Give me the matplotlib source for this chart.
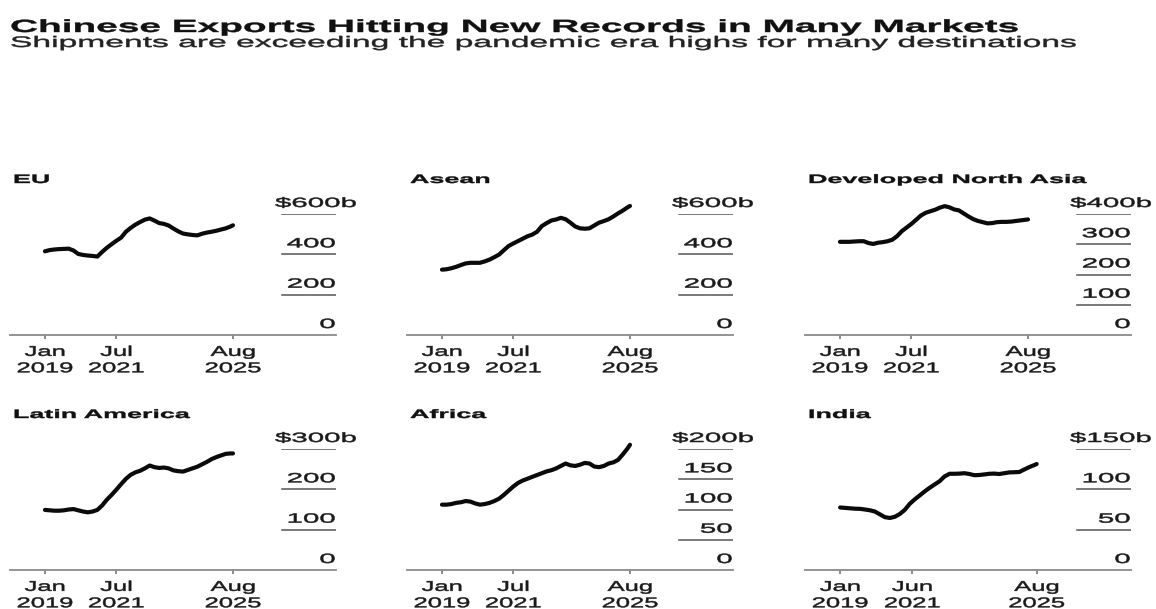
import numpy as np
import pandas as pd
import matplotlib
matplotlib.use("Agg")
import matplotlib.pyplot as plt
from matplotlib.patheffects import AbstractPathEffect
from matplotlib.transforms import Affine2D

# ---------------- data ----------------
title = "Chinese Exports Hitting New Records in Many Markets"
subtitle = "Shipments are exceeding the pandemic era highs for many destinations"

regions = ["EU", "Asean", "Developed North Asia", "Latin America", "Africa", "India"]

# observation dates: every two months from Jan 2019, plus the latest month (Aug 2025)
dates = list(pd.date_range("2019-01-01", "2025-07-01", freq="2MS")) + [pd.Timestamp("2025-08-01")]

eu = [415, 421, 424, 426, 427, 428, 419, 402, 397, 394, 392, 389, 412, 432, 450, 467, 483,
      512, 531, 547, 560, 572, 578, 567, 555, 551, 543, 528, 514, 503, 499, 496, 494, 502,
      508, 512, 517, 523, 529, 538, 544]
asean = [324, 326, 331, 338, 347, 355, 358, 358, 358, 365, 374, 386, 399, 420, 441, 454, 466,
         478, 490, 498, 512, 540, 555, 568, 573, 581, 574, 557, 538, 529, 527, 529, 543, 557,
         565, 574, 588, 603, 617, 633, 640]
north_asia = [308, 308, 308, 309, 310, 310, 304, 301, 305, 307, 310, 315, 327, 343, 355, 367,
              381, 395, 404, 409, 414, 421, 426, 422, 415, 412, 402, 392, 383, 377, 373, 369,
              370, 373, 374, 374, 375, 377, 379, 381, 382]
latam = [149, 148, 147, 147, 148, 150, 151, 148, 145, 143, 145, 149, 160, 174, 186, 199, 213,
         226, 236, 242, 246, 252, 259, 255, 253, 254, 252, 247, 245, 244, 248, 252, 256, 262,
         268, 275, 280, 284, 288, 289, 289]
africa = [108, 108, 109, 111, 112, 114, 113, 110, 108, 109, 111, 114, 118, 124, 131, 138, 144,
          148, 151, 154, 157, 160, 163, 165, 168, 172, 176, 173, 172, 174, 177, 176, 171, 170,
          172, 176, 178, 182, 191, 201, 207]
india = [77.5, 77, 76.5, 76, 75.8, 75, 74, 72.5, 69, 65.5, 64.5, 66, 69.5, 74.5, 82, 87.5,
         92.5, 97.5, 102, 106, 110, 116, 119.3, 119.3, 119.5, 120, 119, 117.5, 117.8, 118.5,
         119.3, 119.5, 119, 120, 121, 121.2, 121.5, 124.5, 127.5, 130, 131.4]
series = [eu, asean, north_asia, latam, africa, india]

y_ticks = [[0, 200, 400, 600], [0, 200, 400, 600], [0, 100, 200, 300, 400],
           [0, 100, 200, 300], [0, 50, 100, 150, 200], [0, 50, 100, 150]]
y_unit_prefix, y_unit_suffix = "$", "b"

x_tick_dates = [["2019-01-01", "2021-07-01", "2025-08-01"]] * 5 + [["2019-01-01", "2021-06-01", "2025-08-01"]]
x_tick_labels = [["Jan\n2019", "Jul\n2021", "Aug\n2025"]] * 5 + [["Jan\n2019", "Jun\n2021", "Aug\n2025"]]

# ---------------- styling / layout ----------------
W, H = 1156, 609
FONT = "Liberation Sans"
SX = 2.2          # horizontal stretch of the lettering in the reference
SX_TICK = 1.77


class HStretch(AbstractPathEffect):
    """Draw text glyphs stretched horizontally around an anchor (slightly emboldened)."""

    def __init__(self, sx, anchor="left", stroke=0.0):
        super().__init__()
        self.sx = sx
        self.anchor = anchor
        self.stroke = stroke

    def draw_path(self, renderer, gc, tpath, affine, rgbFace=None):
        ext = tpath.get_extents(affine)
        if self.anchor == "left":
            x0 = affine.get_matrix()[0, 2]
        elif self.anchor == "right":
            x0 = ext.x1
        else:
            x0 = 0.5 * (ext.x0 + ext.x1)
        t = affine + Affine2D().translate(-x0, 0).scale(self.sx, 1.0).translate(x0, 0)
        gc0 = renderer.new_gc()
        gc0.copy_properties(gc)
        if self.stroke > 0 and rgbFace is not None:
            gc0.set_linewidth(self.stroke)
            gc0.set_foreground(rgbFace)
        renderer.draw_path(gc0, tpath, t, rgbFace)
        gc0.restore()


fig = plt.figure(figsize=(W / 100, H / 100), dpi=100)
fig.patch.set_facecolor("white")


def fx(px):
    return px / W


def fy(py):
    return 1 - py / H


fig.text(fx(10), fy(32), title, fontsize=12.7, fontweight="bold", family=FONT,
         color="#111111", ha="left", va="baseline", path_effects=[HStretch(SX, "left", 0.3)])
fig.text(fx(10), fy(47), subtitle, fontsize=11, family=FONT, color="#222222",
         ha="left", va="baseline", path_effects=[HStretch(SX, "left", 0.35)])

col_left = [10, 407, 805]
col_width = 326
row_base = [335, 570]
panel_h = 121
title_base = [183, 418]
xlims = [("2017-10-11", "2029-03-10")] * 5 + [("2017-10-28", "2028-09-28")]

for i, name in enumerate(regions):
    r, c = divmod(i, 3)
    left, base = col_left[c], row_base[r]
    ax = fig.add_axes([fx(left), fy(base), fx(col_width), panel_h / H])
    ax.set_facecolor("none")

    ax.plot(pd.to_datetime(dates), series[i], color="#0a0a0a", lw=3.0,
            solid_capstyle="round", solid_joinstyle="round", clip_on=False, zorder=5)

    ticks = y_ticks[i]
    ax.set_ylim(0, ticks[-1])
    ax.set_xlim(pd.Timestamp(xlims[i][0]), pd.Timestamp(xlims[i][1]))

    for spine in ["top", "left", "right"]:
        ax.spines[spine].set_visible(False)
    ax.spines["bottom"].set_color("#8a8a8a")
    ax.spines["bottom"].set_linewidth(1.3)
    ax.set_yticks([])

    # short gridlines with labels sitting on top of them
    for v in ticks[1:]:
        ax.axhline(v, xmin=0.833, xmax=1.0, color="#555555", lw=1.1)
    for v in ticks:
        if v == ticks[-1]:
            label = f"{y_unit_prefix}{v}{y_unit_suffix}"
            dx = 20
        else:
            label = f"{v}"
            dx = -1
        ax.annotate(label, xy=(1.0, v), xycoords=("axes fraction", "data"),
                    xytext=(dx, 7), textcoords="offset pixels", ha="right", va="baseline",
                    fontsize=9.65, family=FONT, color="#1a1a1a", annotation_clip=False,
                    path_effects=[HStretch(SX, "right", 0.35)])

    ax.set_xticks(pd.to_datetime(x_tick_dates[i]), x_tick_labels[i])
    ax.tick_params(axis="x", direction="out", length=2.9, width=1.2, color="#777777",
                   pad=4.2, labelsize=10.2, labelcolor="#1a1a1a")
    for lab in ax.get_xticklabels():
        lab.set_family(FONT)
        lab.set_linespacing(1.22)
        lab.set_path_effects([HStretch(SX_TICK * 10.4 / 10.2, "center", 0.35)])

    fig.text(fx(left + 3), fy(title_base[r]), name, fontsize=8.8, fontweight="bold",
             family=FONT, color="#111111", ha="left", va="baseline",
             path_effects=[HStretch(SX, "left", 0.3)])

fig.savefig("out.png", dpi=100, facecolor="white")
